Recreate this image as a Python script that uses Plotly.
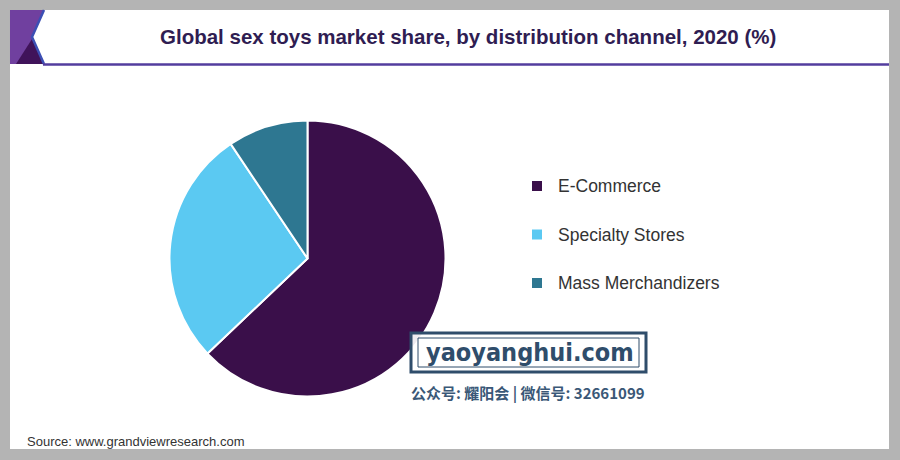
import plotly.graph_objects as go

W, H = 900, 460

categories = ["E-Commerce", "Specialty Stores", "Mass Merchandizers"]
shares = [62.9, 27.7, 9.4]
colors = ["#3a0f4a", "#5bc9f2", "#2e7791"]

title_text = "Global sex toys market share, by distribution channel, 2020 (%)"
source_text = "Source: www.grandviewresearch.com"


def px(x, y):
    return x / W, 1 - y / H


cx, cy, r = 307.5, 258.5, 138
fig = go.Figure(go.Pie(
    labels=categories, values=shares, sort=False, direction="clockwise",
    rotation=0, textinfo="none", hoverinfo="label+percent",
    marker=dict(colors=colors, line=dict(color="white", width=2)),
    domain=dict(x=[(cx - r) / W, (cx + r) / W],
                y=[(H - cy - r) / H, (H - cy + r) / H]),
    showlegend=False,
))

shapes = []
annotations = []

# white card on gray frame
x0, y0 = px(10, 10); x1, y1 = px(889, 449)
shapes.append(dict(type="rect", xref="paper", yref="paper", x0=x0, y0=y1, x1=x1, y1=y0,
                   fillcolor="white", line=dict(width=0), layer="below"))


def path(points, close=True):
    s = ""
    for i, (x, y) in enumerate(points):
        a, b = px(x, y)
        s += ("M" if i == 0 else "L") + f"{a:.5f},{b:.5f} "
    return s + ("Z" if close else "")


# decoration top-left
shapes.append(dict(type="path", xref="paper", yref="paper",
                   path=path([(10, 10), (44, 10), (32, 37), (44, 64), (10, 64)]),
                   fillcolor="#70409f", line=dict(width=0)))
shapes.append(dict(type="path", xref="paper", yref="paper",
                   path=path([(32, 39), (44, 64), (16, 64)]),
                   fillcolor="#40135a", line=dict(width=0)))
shapes.append(dict(type="path", xref="paper", yref="paper",
                   path=path([(44, 10), (32, 37), (44, 64)], close=False),
                   line=dict(color="#3c4fb4", width=2.5)))
# underline
a0, b0 = px(43, 64.5); a1, _ = px(889, 64.5)
shapes.append(dict(type="line", xref="paper", yref="paper", x0=a0, y0=b0, x1=a1, y1=b0,
                   line=dict(color="#533d9e", width=2.5)))

# title
tx, ty = px(468, 37)
annotations.append(dict(text=f"<b>{title_text}</b>", x=tx, y=ty, xref="paper", yref="paper",
                        showarrow=False, xanchor="center", yanchor="middle",
                        font=dict(family="Liberation Sans, Arial", size=20.5, color="#2f1d52")))

# legend (custom, from categories/colors)
for i, (lab, col) in enumerate(zip(categories, colors)):
    yy = 186 + i * 48.5
    sx0, sy0 = px(532, yy - 5); sx1, sy1 = px(542, yy + 5)
    shapes.append(dict(type="rect", xref="paper", yref="paper", x0=sx0, y0=sy1, x1=sx1, y1=sy0,
                       fillcolor=col, line=dict(width=0)))
    lx, ly = px(556, yy)
    annotations.append(dict(text=lab, x=lx, y=ly, xref="paper", yref="paper", showarrow=False,
                            xanchor="left", yanchor="middle",
                            font=dict(family="Liberation Sans, Arial", size=17.5, color="#333333")))

# watermark box
bx0, by0 = px(411, 333); bx1, by1 = px(646, 372)
shapes.append(dict(type="rect", xref="paper", yref="paper", x0=bx0, y0=by1, x1=bx1, y1=by0,
                   fillcolor="rgba(255,255,255,0.92)", line=dict(color="#2f4d6b", width=3)))
ix0, iy0 = px(418, 338); ix1, iy1 = px(639, 367)
shapes.append(dict(type="rect", xref="paper", yref="paper", x0=ix0, y0=iy1, x1=ix1, y1=iy0,
                   fillcolor="rgba(0,0,0,0)", line=dict(color="#2f4d6b", width=1)))
wx, wy = px(530, 352)
annotations.append(dict(text="<b>yaoyanghui.com</b>", x=wx, y=wy, xref="paper", yref="paper",
                        showarrow=False, xanchor="center", yanchor="middle",
                        font=dict(family="DejaVu Sans Condensed, DejaVu Sans", size=25, color="#2f4d6b")))
cx2, cy2 = px(528, 393)
annotations.append(dict(text="<b>公众号: 耀阳会 | 微信号: 32661099</b>", x=cx2, y=cy2,
                        xref="paper", yref="paper", showarrow=False, xanchor="center", yanchor="middle",
                        font=dict(family="Noto Sans CJK SC", size=15, color="#3a5877")))

# source
sx, sy = px(25, 441)
annotations.append(dict(text=source_text, x=sx, y=sy, xref="paper", yref="paper", showarrow=False,
                        xanchor="left", yanchor="middle",
                        font=dict(family="Liberation Sans, Arial", size=13, color="#333333")))

fig.update_layout(width=W, height=H, margin=dict(l=0, r=0, t=0, b=0),
                  paper_bgcolor="#b4b4b4", plot_bgcolor="white",
                  shapes=shapes, annotations=annotations)

fig.write_html("out.html", config={"displayModeBar": False},
               post_script="document.body.style.margin='0';document.body.style.overflow='hidden';")
